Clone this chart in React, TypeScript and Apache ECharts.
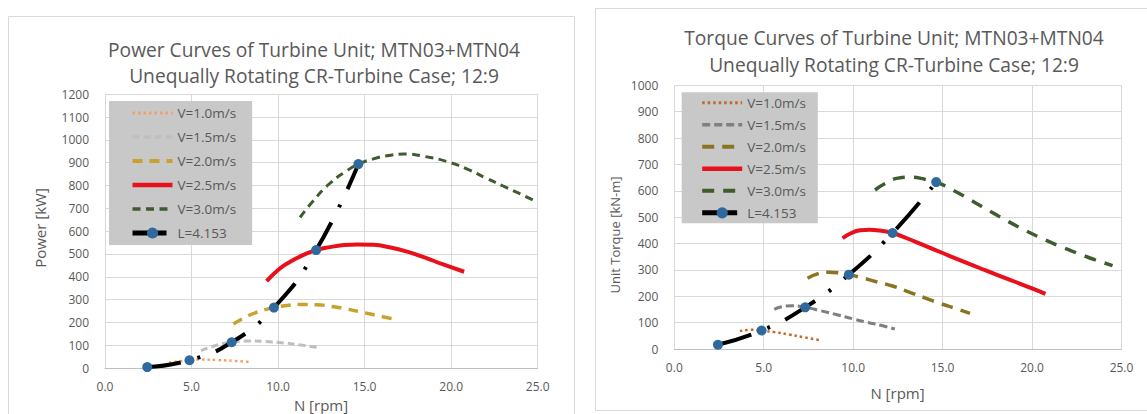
import React, { useEffect, useRef } from "react";
import * as echarts from "echarts";

// ---------- Power chart data (N [rpm], Power [kW]) ----------
const pV10N = [3.7, 4.88, 5.5, 6.5, 7.5, 8.3];
const pV10 = [24, 34, 37, 35, 31, 27];
const pV15N = [5.55, 6.3, 7.32, 8.3, 9.3, 10.3, 11.3, 12.4];
const pV15 = [76, 97, 113, 118, 116, 110, 101, 89];
const pV20N = [7.42, 8.3, 9.0, 9.76, 10.5, 11.3, 12.2, 13.1, 14.0, 15.0, 15.8, 16.7];
const pV20 = [193, 230, 250, 265, 274, 278, 277, 270, 258, 242, 229, 214];
const pV25N = [9.34, 10.1, 10.7, 11.5, 12.2, 13.0, 13.8, 14.55, 15.5, 16.5, 17.5, 18.5, 19.5, 20.75];
const pV25 = [381, 436, 466, 497, 517, 530, 539, 542, 540, 528, 509, 484, 455, 422];
const pV30N = [11.27, 12.0, 13.0, 14.0, 14.64, 15.5, 16.5, 17.25, 18.5, 19.9, 21.0, 22.0, 23.0, 24.0, 24.85];
const pV30 = [660, 730, 810, 866, 894, 917, 933, 938, 927, 902, 870, 833, 798, 763, 732];
const lN = [2.44, 4.88, 7.32, 9.76, 12.2, 14.64];
const pL = [4, 34, 113, 265, 517, 894];

// ---------- Torque chart data (N [rpm], Unit Torque [kN-m]) ----------
const tV10N = [3.67, 4.3, 4.88, 5.6, 6.4, 7.2, 8.1];
const tV10 = [68, 73, 70, 64, 55, 45, 34];
const tV15N = [5.59, 6.0, 6.6, 7.32, 8.2, 9.1, 10.0, 10.8, 11.6, 12.33];
const tV15 = [150, 160, 164, 158, 145, 130, 114, 101, 89, 76];
const tV20N = [7.45, 8.0, 8.6, 9.2, 9.78, 10.5, 11.3, 12.2, 13.2, 14.0, 14.85, 15.7, 16.53];
const tV20 = [268, 285, 291, 289, 282, 270, 255, 239, 214, 194, 173, 154, 135];
const tV25N = [9.41, 9.9, 10.4, 10.9, 11.5, 12.19, 13.0, 14.0, 15.0, 16.0, 17.0, 18.0, 19.0, 20.0, 20.75];
const tV25 = [420, 440, 450, 452, 449, 440, 420, 392, 364, 336, 309, 282, 256, 230, 209];
const tV30N = [11.22, 11.8, 12.5, 13.2, 14.0, 14.66, 15.5, 16.5, 17.5, 18.5, 19.5, 20.5, 21.5, 22.5, 23.5, 24.5];
const tV30 = [603, 628, 648, 652, 644, 633, 605, 568, 528, 490, 454, 421, 391, 364, 339, 316];
const tL = [16, 70, 158, 282, 440, 633];

const seriesNames = ["V=1.0m/s", "V=1.5m/s", "V=2.0m/s", "V=2.5m/s", "V=3.0m/s", "L=4.153"];

const zip = (xs: number[], ys: number[]) => xs.map((x, i) => [x, ys[i]]);

const FONT = "Open Sans";
const GREY = "#595959";

type Cfg = {
  titles: string[];
  titleX: number;
  titleY: number[];
  yName: string;
  yNameX: number;
  yNameY: number;
  yNameSize: number;
  xNameX: number;
  xNameY: number;
  grid: any;
  yMax: number;
  legend: any;
  border: any;
  data: number[][][];
  styles: any[];
};

function makeOption(c: Cfg) {
  const series: any[] = c.data.map((d, i) => {
    const isL = i === 5;
    return {
      name: seriesNames[i],
      type: "line",
      data: d,
      smooth: true,
      symbol: isL ? "circle" : "none",
      symbolSize: 10,
      showSymbol: isL,
      itemStyle: isL ? { color: "#2F6A9F" } : { color: c.styles[i].color },
      lineStyle: c.styles[i],
      z: isL ? 5 : 2,
    };
  });
  const legendData = seriesNames.map((n, i) => ({
    name: n,
    itemStyle: i === 5 ? { color: "#2F6A9F" } : { opacity: 0 },
    lineStyle: { width: c.styles[i].width + (i === 5 ? 1 : 0.5), type: c.styles[i].type, color: c.styles[i].color },
  }));
  return {
    animation: false,
    grid: c.grid,
    xAxis: {
      type: "value",
      min: 0,
      max: 25,
      interval: 5,
      axisLine: { show: true, lineStyle: { color: "#bfbfbf" } },
      axisTick: { show: false },
      splitLine: { show: true, lineStyle: { color: "#d9d9d9" } },
      axisLabel: {
        color: GREY,
        fontFamily: FONT,
        fontSize: 12,
        margin: 12,
        formatter: (v: number) => v.toFixed(1),
      },
    },
    yAxis: {
      type: "value",
      min: 0,
      max: c.yMax,
      interval: 100,
      axisLine: { show: false },
      axisTick: { show: false },
      splitLine: { show: true, lineStyle: { color: "#d9d9d9" } },
      axisLabel: {
        color: GREY,
        fontFamily: FONT,
        fontSize: 12,
        margin: 16,
        formatter: (v: number) => String(v),
      },
    },
    legend: {
      orient: "vertical",
      data: legendData,
      backgroundColor: "#c8c8c8",
      borderRadius: 0,
      itemHeight: 14,
      textStyle: { color: GREY, fontFamily: FONT, fontSize: 13.5 },
      selectedMode: false,
      ...c.legend,
    },
    graphic: [
      {
        type: "rect",
        silent: true,
        shape: c.border,
        style: { fill: "none", stroke: "#d9d9d9", lineWidth: 1 },
      },
      ...c.titles.map((t, i) => ({
        type: "text",
        x: c.titleX,
        y: c.titleY[i],
        style: {
          text: t,
          align: "center",
          verticalAlign: "middle",
          fill: GREY,
          font: `19.2px "${FONT}"`,
        },
      })),
      {
        type: "text",
        x: c.yNameX,
        y: c.yNameY,
        rotation: Math.PI / 2,
        style: {
          text: c.yName,
          align: "center",
          verticalAlign: "middle",
          fill: GREY,
          font: `${c.yNameSize}px "${FONT}"`,
        },
      },
      {
        type: "text",
        x: c.xNameX,
        y: c.xNameY,
        style: {
          text: "N [rpm]",
          align: "center",
          verticalAlign: "middle",
          fill: GREY,
          font: `15px "${FONT}"`,
        },
      },
    ],
    series,
  };
}

const powerCfg: Cfg = {
  titles: ["Power Curves of Turbine Unit; MTN03+MTN04", "Unequally Rotating CR-Turbine Case; 12:9"],
  titleX: 314,
  titleY: [49, 75],
  yName: "Power [kW]",
  yNameX: 40,
  yNameY: 228,
  yNameSize: 15,
  xNameX: 321,
  xNameY: 405,
  grid: { left: 105, right: 1147 - 537.7, top: 94.3, bottom: 414 - 368 },
  yMax: 1200,
  legend: {
    left: 109,
    top: 101,
    padding: [5, 16, 5, 21],
    itemWidth: 40,
    itemGap: 10,
  },
  border: { x: 8.5, y: 16.5, width: 566, height: 430 },
  data: [zip(pV10N, pV10), zip(pV15N, pV15), zip(pV20N, pV20), zip(pV25N, pV25), zip(pV30N, pV30), zip(lN, pL)],
  styles: [
    { color: "#F2A06A", width: 2.5, type: [2.5, 3] },
    { color: "#BFBFBF", width: 3, type: [7, 4] },
    { color: "#C9A22C", width: 3.5, type: [10, 7] },
    { color: "#E8101A", width: 4, type: "solid" },
    { color: "#3E5C2E", width: 3, type: [8, 5.5] },
    { color: "#000000", width: 4, type: [34, 17, 3, 17] },
  ],
};

const torqueCfg: Cfg = {
  titles: ["Torque Curves of Turbine Unit; MTN03+MTN04", "Unequally Rotating CR-Turbine Case; 12:9"],
  titleX: 894,
  titleY: [37, 64],
  yName: "Unit Torque [kN-m]",
  yNameX: 615,
  yNameY: 235,
  yNameSize: 13,
  xNameX: 897.5,
  xNameY: 393,
  grid: { left: 674.3, right: 1147 - 1121.5, top: 85.3, bottom: 414 - 349 },
  yMax: 1000,
  legend: {
    left: 681.7,
    top: 92.3,
    padding: [3.5, 12, 3.5, 18],
    itemWidth: 40,
    itemGap: 8,
  },
  border: { x: 595.5, y: 8.5, width: 570, height: 402 },
  data: [zip(tV10N, tV10), zip(tV15N, tV15), zip(tV20N, tV20), zip(tV25N, tV25), zip(tV30N, tV30), zip(lN, tL)],
  styles: [
    { color: "#C0692A", width: 2.5, type: [2.5, 3] },
    { color: "#7F7F7F", width: 3, type: [8, 4] },
    { color: "#8A7422", width: 3.5, type: [12, 8] },
    { color: "#E8101A", width: 4, type: "solid" },
    { color: "#3E5C2E", width: 3.5, type: [12, 9] },
    { color: "#000000", width: 4, type: [35, 17, 3, 17] },
  ],
};

export default function App() {
  const leftRef = useRef<HTMLDivElement>(null);
  const rightRef = useRef<HTMLDivElement>(null);
  useEffect(() => {
    const a = echarts.init(leftRef.current!, undefined, { renderer: "svg" });
    const b = echarts.init(rightRef.current!, undefined, { renderer: "svg" });
    a.setOption(makeOption(powerCfg));
    b.setOption(makeOption(torqueCfg));
    return () => {
      a.dispose();
      b.dispose();
    };
  }, []);
  const box: React.CSSProperties = { position: "absolute", left: 0, top: 0, width: 1147, height: 414 };
  return (
    <div style={{ position: "fixed", left: 0, top: 0, width: 1147, height: 414, overflow: "hidden", background: "#fff" }}>
      <div ref={leftRef} style={box} />
      <div ref={rightRef} style={box} />
    </div>
  );
}
